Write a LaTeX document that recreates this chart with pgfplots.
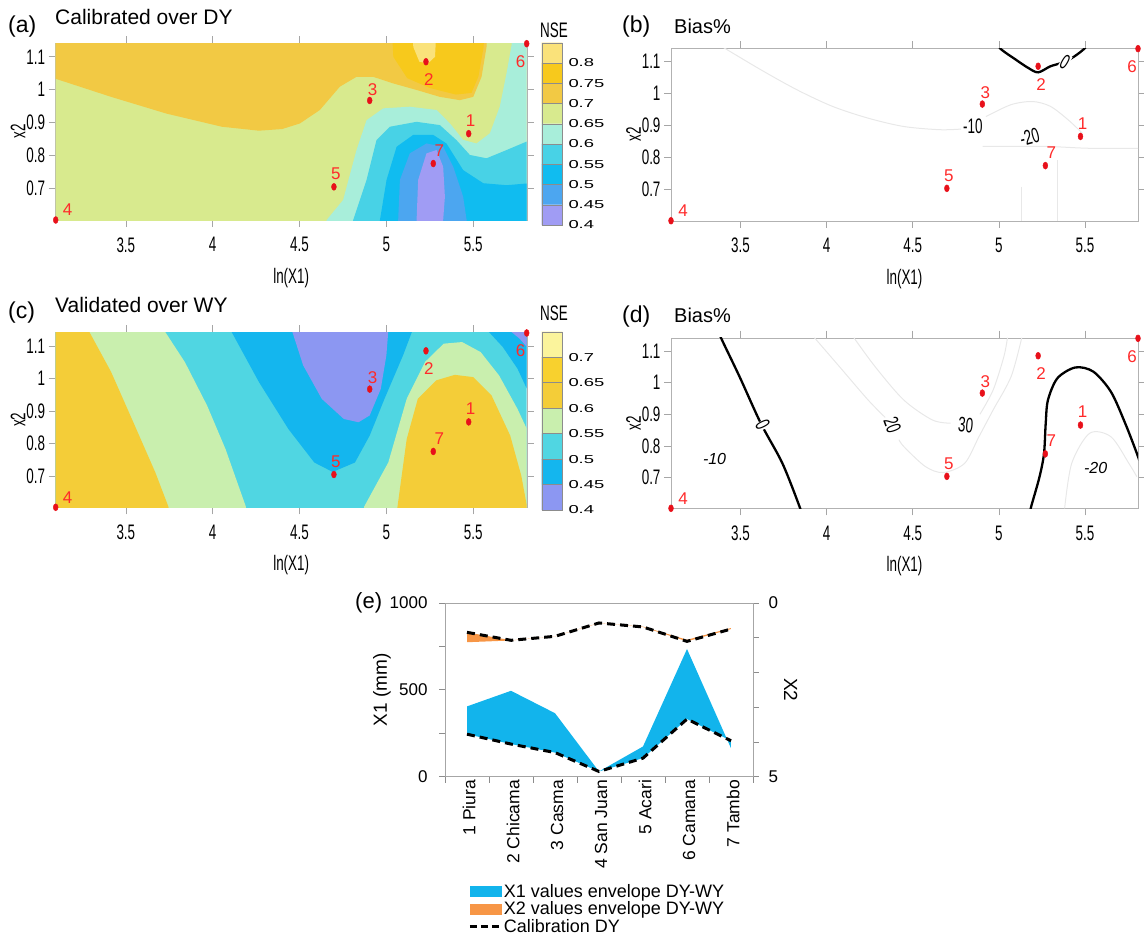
\documentclass[border=0pt]{standalone}
\usepackage{fontspec}
\setmainfont{Liberation Sans}
\newfontfamily\narrow[FakeStretch=0.64]{Liberation Sans}
\newfontfamily\wide[FakeStretch=1.6]{Liberation Sans}
\usepackage{pgfplots}
\pgfplotsset{compat=1.18}

\definecolor{a1}{HTML}{FAE27A}
\definecolor{a2}{HTML}{F7C91C}
\definecolor{a3}{HTML}{F2C944}
\definecolor{a4}{HTML}{D8EA8E}
\definecolor{a5}{HTML}{A8EEDA}
\definecolor{a6}{HTML}{48D2E6}
\definecolor{a7}{HTML}{10BCF0}
\definecolor{a8}{HTML}{4CA6F0}
\definecolor{a9}{HTML}{A09CF4}
\definecolor{c1}{HTML}{FBF49C}
\definecolor{c2}{HTML}{F8D12E}
\definecolor{c3}{HTML}{F4CD38}
\definecolor{c4}{HTML}{C9EFAE}
\definecolor{c5}{HTML}{50D6E2}
\definecolor{c6}{HTML}{14B6EE}
\definecolor{c7}{HTML}{8C97F2}
\definecolor{eblue}{HTML}{12B4EC}
\definecolor{eorange}{HTML}{F79646}
\definecolor{dotred}{HTML}{E8101A}
\definecolor{labred}{HTML}{FF2A2A}

\tikzset{
  slab/.style={text=labred, font=\fontsize{17}{17}\selectfont, inner sep=0pt, anchor=center},
  faint/.style={black!9, line width=1pt, smooth},
  bold/.style={black, line width=2.3pt, smooth},
  clab/.style={font=\narrow\fontsize{21}{21}\selectfont, inner sep=0.5pt},
  cbl/.style={font=\wide\fontsize{11.5}{11.5}\selectfont, anchor=west, xshift=6pt, inner sep=0pt},
}
\pgfplotsset{
  cpanel/.style={
    anchor=north west, scale only axis,
    xmin=3.096, xmax=5.808, ymin=0.603, ymax=1.142,
    xtick={3.5,4,4.5,5,5.5}, ytick={0.7,0.8,0.9,1,1.1},
    tick align=outside, major tick length=7pt,
    xtick pos=both, ytick pos=both,
    axis line style={black!30}, tick style={black!35, line width=0.6pt},
    /pgf/number format/assume math mode=true,
    ticklabel style={font=\narrow\fontsize{21}{21}\selectfont},
    xticklabel style={yshift=-7pt},
    xlabel={ln(X1)}, ylabel={x2},
    xlabel style={font=\narrow\fontsize{21}{21}\selectfont, at={(axis description cs:0.5,0)}, yshift=-58pt, anchor=center},
    ylabel style={font=\narrow\fontsize{21}{21}\selectfont, at={(axis description cs:-0.08,0.5)}, anchor=center},
  },
  ovl/.style={anchor=north west, scale only axis,
    xmin=3.096, xmax=5.808, ymin=0.603, ymax=1.142, hide axis, clip=false},
}

\newcommand{\sitedots}{%
  \addplot[only marks, mark=*, mark size=3.5pt, color=dotred, mark options={xscale=0.7}]
    coordinates {(5.474,0.866)(5.228,1.085)(4.904,0.967)(3.096,0.603)(4.698,0.704)(5.808,1.140)(5.27,0.775)};
  \node[slab, xshift=2pt, yshift=13pt] at (axis cs:5.474,0.866) {1};
  \node[slab, xshift=3pt, yshift=-18pt] at (axis cs:5.228,1.085) {2};
  \node[slab, xshift=3pt, yshift=11pt] at (axis cs:4.904,0.967) {3};
  \node[slab, xshift=12pt, yshift=10pt] at (axis cs:3.096,0.603) {4};
  \node[slab, xshift=2pt, yshift=13pt] at (axis cs:4.698,0.704) {5};
  \node[slab, xshift=-6pt, yshift=-18pt] at (axis cs:5.808,1.140) {6};
  \node[slab, xshift=6pt, yshift=13pt] at (axis cs:5.27,0.775) {7};
}
\newcommand{\band}[3]{\addplot[fill=#1, draw=black!45, line width=0.3pt] coordinates {(0,#2)(1,#2)(1,#3)(0,#3)(0,#2)};}

\begin{document}
\begin{tikzpicture}
\useasboundingbox (0,0) rectangle (1144pt,-940pt);

% ---------------- (a) ----------------
\begin{axis}[cpanel, at={(55.7pt,-43pt)}, width=471pt, height=177pt]
\addplot[fill=a4, draw=none] coordinates {(2.9,0.5)(6,0.5)(6,1.3)(2.9,1.3)};
\addplot[fill=a3, draw=none] coordinates {(3.0,1.2)(3.0,1.033)(3.096,1.033)(3.415,0.978)(3.734,0.927)(4.053,0.887)(4.266,0.875)(4.40,0.880)(4.502,0.897)(4.617,0.938)(4.732,1.009)(4.828,1.039)(4.924,1.039)(5.039,1.019)(5.174,0.999)(5.308,0.978)(5.423,0.968)(5.500,0.978)(5.548,1.039)(5.577,1.131)(5.58,1.2)};
\addplot[fill=a2, draw=none] coordinates {(5.03,1.2)(5.04,1.10)(5.12,1.035)(5.25,1.005)(5.40,0.985)(5.49,0.99)(5.53,1.04)(5.56,1.13)(5.565,1.2)};
\addplot[fill=a1, draw=none] coordinates {(5.15,1.2)(5.155,1.13)(5.19,1.085)(5.24,1.08)(5.28,1.10)(5.29,1.2)};
\addplot[fill=a5, draw=none] coordinates {(4.64,0.55)(4.656,0.603)(4.751,0.664)(4.828,0.816)(4.886,0.907)(4.982,0.943)(5.135,0.948)(5.289,0.938)(5.366,0.897)(5.442,0.847)(5.519,0.836)(5.596,0.867)(5.653,0.948)(5.692,1.050)(5.721,1.136)(5.73,1.2)(5.9,1.2)(5.9,0.55)};
\addplot[fill=a6, draw=none] coordinates {(4.80,0.55)(4.809,0.603)(4.886,0.725)(4.943,0.846)(5.020,0.887)(5.174,0.902)(5.308,0.892)(5.404,0.846)(5.481,0.801)(5.577,0.791)(5.692,0.816)(5.826,0.846)(5.9,0.85)(5.9,0.55)};
\addplot[fill=a7, draw=none] coordinates {(4.955,0.55)(4.963,0.603)(5.001,0.725)(5.059,0.826)(5.154,0.862)(5.270,0.862)(5.346,0.836)(5.442,0.755)(5.558,0.715)(5.692,0.709)(5.826,0.715)(5.9,0.715)(5.9,0.55)};
\addplot[fill=a8, draw=none] coordinates {(5.066,0.55)(5.068,0.603)(5.078,0.725)(5.135,0.806)(5.231,0.836)(5.327,0.826)(5.385,0.765)(5.442,0.674)(5.462,0.603)(5.465,0.55)};
\addplot[fill=a9, draw=none] coordinates {(5.172,0.55)(5.174,0.603)(5.183,0.725)(5.231,0.806)(5.289,0.816)(5.327,0.765)(5.337,0.674)(5.327,0.603)(5.327,0.55)};
\end{axis}
\begin{axis}[ovl, at={(55.7pt,-43pt)}, width=471pt, height=177pt]
\sitedots
\end{axis}

% colorbar (a)
\begin{axis}[at={(541.7pt,-42.7pt)}, anchor=north west, scale only axis, width=20.6pt, height=182.3pt, xmin=0, xmax=1, ymin=0, ymax=9, hide axis, clip=false]
\band{a9}{0}{1}\band{a8}{1}{2}\band{a7}{2}{3}\band{a6}{3}{4}\band{a5}{4}{5}\band{a4}{5}{6}\band{a3}{6}{7}\band{a2}{7}{8}\band{a1}{8}{9}
\node[cbl] at (axis cs:1,0) {0.4};
\node[cbl] at (axis cs:1,1) {0.45};
\node[cbl] at (axis cs:1,2) {0.5};
\node[cbl] at (axis cs:1,3) {0.55};
\node[cbl] at (axis cs:1,4) {0.6};
\node[cbl] at (axis cs:1,5) {0.65};
\node[cbl] at (axis cs:1,6) {0.7};
\node[cbl] at (axis cs:1,7) {0.75};
\node[cbl] at (axis cs:1,8) {0.8};
\end{axis}

% ---------------- (b) ----------------
\begin{axis}[cpanel, at={(671pt,-48pt)}, width=467pt, height=172.7pt]
\addplot[faint] coordinates {(3.390,1.147)(3.618,1.074)(3.826,1.012)(4.033,0.960)(4.241,0.923)(4.448,0.897)(4.656,0.887)(4.780,0.889)};
\addplot[faint] coordinates {(4.925,0.928)(5.070,0.965)(5.195,0.975)(5.299,0.960)(5.402,0.918)(5.485,0.876)};
\addplot[faint] coordinates {(4.905,0.835)(5.070,0.835)(5.278,0.835)(5.527,0.829)(5.85,0.829)};
\addplot[faint] coordinates {(5.340,0.793)(5.340,0.55)};
\addplot[faint] coordinates {(5.133,0.709)(5.133,0.55)};
\addplot[bold] coordinates {(4.97,1.175)(5.007,1.141)(5.10,1.105)(5.17,1.08)(5.228,1.066)(5.30,1.085)(5.384,1.099)(5.45,1.12)(5.50,1.142)(5.53,1.165)};
\node[clab, fill=white, rotate=-30] at (axis cs:5.384,1.099) {0};
\node[clab] at (axis cs:4.849,0.898) {-10};
\node[clab, rotate=15] at (axis cs:5.178,0.865) {-20};
\end{axis}
\begin{axis}[ovl, at={(671pt,-48pt)}, width=467pt, height=172.7pt]
\sitedots
\end{axis}

% ---------------- (c) ----------------
\begin{axis}[cpanel, at={(55.7pt,-332.3pt)}, width=471pt, height=175pt]
\addplot[fill=c5, draw=none] coordinates {(2.9,0.5)(6,0.5)(6,1.3)(2.9,1.3)};
\addplot[fill=c4, draw=none] coordinates {(2.9,0.5)(2.9,1.25)(3.68,1.25)(3.723,1.146)(3.840,1.050)(3.968,0.916)(4.074,0.782)(4.191,0.605)(4.21,0.5)};
\addplot[fill=c3, draw=none] coordinates {(2.9,0.5)(2.9,1.25)(3.25,1.25)(3.287,1.146)(3.415,1.020)(3.543,0.865)(3.670,0.710)(3.745,0.605)(3.77,0.5)};
\addplot[fill=c6, draw=none] coordinates {(4.06,1.25)(4.106,1.146)(4.266,0.989)(4.436,0.844)(4.585,0.741)(4.691,0.712)(4.819,0.741)(4.904,0.824)(4.989,0.937)(5.096,1.071)(5.149,1.146)(5.18,1.25)};
\addplot[fill=c7, draw=none] coordinates {(4.44,1.25)(4.457,1.146)(4.521,1.040)(4.628,0.937)(4.755,0.875)(4.840,0.865)(4.904,0.886)(4.968,0.968)(5.0,1.071)(5.011,1.146)(5.015,1.25)};
\addplot[fill=c4, draw=none] coordinates {(4.85,0.5)(4.872,0.605)(5.011,0.741)(5.117,0.937)(5.223,1.051)(5.330,1.107)(5.436,1.112)(5.543,1.081)(5.649,1.009)(5.755,0.906)(5.809,0.844)(5.9,0.75)(5.9,0.5)};
\addplot[fill=c3, draw=none] coordinates {(5.05,0.5)(5.064,0.605)(5.117,0.813)(5.181,0.937)(5.287,0.994)(5.394,1.011)(5.500,1.004)(5.606,0.947)(5.713,0.824)(5.777,0.700)(5.809,0.607)(5.83,0.5)};
\addplot[fill=c6, draw=none] coordinates {(5.56,1.25)(5.585,1.146)(5.670,1.097)(5.755,1.030)(5.809,0.968)(5.9,0.9)(5.9,1.25)};
\addplot[fill=c7, draw=none] coordinates {(5.70,1.25)(5.713,1.146)(5.766,1.123)(5.809,1.097)(5.9,1.05)(5.9,1.25)};
\end{axis}
\begin{axis}[ovl, at={(55.7pt,-332.3pt)}, width=471pt, height=175pt]
\sitedots
\end{axis}

% colorbar (c)
\begin{axis}[at={(541.7pt,-331.7pt)}, anchor=north west, scale only axis, width=20.6pt, height=178.3pt, xmin=0, xmax=1, ymin=0, ymax=7, hide axis, clip=false]
\band{c7}{0}{1}\band{c6}{1}{2}\band{c5}{2}{3}\band{c4}{3}{4}\band{c3}{4}{5}\band{c2}{5}{6}\band{c1}{6}{7}
\node[cbl] at (axis cs:1,0) {0.4};
\node[cbl] at (axis cs:1,1) {0.45};
\node[cbl] at (axis cs:1,2) {0.5};
\node[cbl] at (axis cs:1,3) {0.55};
\node[cbl] at (axis cs:1,4) {0.6};
\node[cbl] at (axis cs:1,5) {0.65};
\node[cbl] at (axis cs:1,6) {0.7};
\end{axis}

% ---------------- (d) ----------------
\begin{axis}[cpanel, at={(671pt,-337.7pt)}, width=467pt, height=170.6pt]
\addplot[faint] coordinates {(3.929,1.142)(4.075,1.050)(4.241,0.945)(4.340,0.890)};
\addplot[faint] coordinates {(4.420,0.820)(4.448,0.798)(4.573,0.735)(4.676,0.716)(4.801,0.745)(4.884,0.829)(4.967,0.914)(5.071,1.019)(5.133,1.142)};
\addplot[faint] coordinates {(4.158,1.142)(4.282,1.050)(4.448,0.945)(4.614,0.882)(4.720,0.872)};
\addplot[faint] coordinates {(4.890,0.900)(4.967,0.977)(5.029,1.082)(5.050,1.142)};
\addplot[faint] coordinates {(5.382,0.603)(5.423,0.745)(5.527,0.840)(5.651,0.829)(5.755,0.745)(5.801,0.703)};
\addplot[bold] coordinates {(3.36,1.18)(3.386,1.142)(3.494,1.019)(3.618,0.871)(3.743,0.745)(3.846,0.603)(3.86,0.57)};
\addplot[bold] coordinates {(5.17,0.56)(5.185,0.603)(5.235,0.70)(5.262,0.775)(5.272,0.871)(5.285,0.945)(5.340,1.014)(5.444,1.048)(5.548,1.035)(5.651,0.971)(5.734,0.871)(5.801,0.777)(5.83,0.73)};
\node[clab, fill=white, rotate=-64] at (axis cs:3.629,0.866) {0};
\node[font=\itshape\fontsize{16}{16}\selectfont] at (axis cs:3.349,0.760) {-10};
\node[clab, rotate=-70] at (axis cs:4.382,0.866) {20};
\node[clab, rotate=-5] at (axis cs:4.807,0.866) {30};
\node[font=\itshape\fontsize{16}{16}\selectfont] at (axis cs:5.562,0.731) {-20};
\end{axis}
\begin{axis}[ovl, at={(671pt,-337.7pt)}, width=467pt, height=170.6pt]
\sitedots
\end{axis}

% ---------------- (e) ----------------
\begin{axis}[at={(445pt,-603pt)}, anchor=north west, scale only axis, width=308pt, height=173.5pt,
  xmin=0.5, xmax=7.5, ymin=0, ymax=1000,
  axis line style={black!35}, tick style={black!45, line width=0.6pt},
  tick align=outside, major tick length=6pt,
  xtick={0.5,1.5,2.5,3.5,4.5,5.5,6.5,7.5}, xticklabels={,,,,,,,},
  extra x ticks={1,2,3,4,5,6,7},
  extra x tick labels={1 Piura,2 Chicama,3 Casma,4 San Juan,5 Acari,6 Camana,7 Tambo},
  extra x tick style={major tick length=0pt, xticklabel style={rotate=90, anchor=east, yshift=-2pt, font=\fontsize{17.5}{17.5}\selectfont}},
  xtick pos=bottom, ytick pos=left,
  ytick={0,250,500,750,1000}, yticklabels={0,,500,,1000},
  /pgf/number format/assume math mode=true,
  yticklabel style={font=\fontsize{17}{17}\selectfont, xshift=-8pt},
  ylabel={X1 (mm)},
  ylabel style={font=\fontsize{19}{19}\selectfont, at={(axis description cs:-0.205,0.5)}, anchor=center},
  legend style={at={(axis description cs:0.075,-0.612)}, anchor=north west, draw=none, fill=none,
    font=\fontsize{18}{18}\selectfont, row sep=0pt, inner sep=0pt, nodes={inner sep=1.5pt}},
  legend cell align=left,
]
\addlegendimage{legend image code/.code={\fill[eblue] (0pt,-5pt) rectangle (31pt,5pt);}}
\addlegendentry{X1 values envelope DY-WY}
\addlegendimage{legend image code/.code={\fill[eorange] (0pt,-5pt) rectangle (31pt,5pt);}}
\addlegendentry{X2 values envelope DY-WY}
\addlegendimage{legend image code/.code={\draw[black, line width=3pt, dash pattern=on 7pt off 4pt] (0pt,0pt) -- (31pt,0pt);}}
\addlegendentry{Calibration DY}
\addplot[fill=eblue, draw=none] coordinates {(1,244)(2,187)(3,138)(4,29)(5,106)(6,331)(7,206)(7,163)(6,735)(5,173)(4,29)(3,365)(2,494)(1,404)(1,244)};
\addplot[black, line width=3pt, dash pattern=on 8pt off 5pt] coordinates {(1,244)(2,187)(3,138)(4,29)(5,106)(6,331)(7,206)};
\end{axis}
\begin{axis}[at={(445pt,-603pt)}, anchor=north west, scale only axis, width=308pt, height=173.5pt,
  xmin=0.5, xmax=7.5, ymin=0, ymax=5, y dir=reverse,
  axis x line=none, axis y line*=right,
  axis line style={black!35}, tick style={black!45, line width=0.6pt},
  tick align=outside, major tick length=6pt,
  ytick={0,1,2,3,4,5}, yticklabels={0,,,,,5},
  /pgf/number format/assume math mode=true,
  yticklabel style={font=\fontsize{17}{17}\selectfont, xshift=6pt},
  ylabel={X2},
  ylabel style={font=\fontsize{19}{19}\selectfont, rotate=180, at={(axis description cs:1.123,0.5)}, anchor=center},
]
\addplot[fill=eorange, draw=none] coordinates {(1,0.845)(2,1.075)(3,0.96)(4,0.575)(5,0.69)(6,1.105)(7,0.75)(7,0.72)(6,1.06)(5,0.68)(4,0.58)(3,0.96)(2,1.08)(1,1.13)(1,0.845)};
\addplot[black, line width=3pt, dash pattern=on 8pt off 5pt] coordinates {(1,0.845)(2,1.075)(3,0.96)(4,0.575)(5,0.69)(6,1.105)(7,0.75)};
\end{axis}

% panel titles
\node[anchor=west, inner sep=0pt, font=\fontsize{23}{23}\selectfont] at (8pt,-27pt) {(a)};
\node[anchor=west, inner sep=0pt, font=\fontsize{21}{21}\selectfont] at (55pt,-17pt) {Calibrated over DY};
\node[anchor=west, inner sep=0pt, font=\fontsize{23}{23}\selectfont] at (622pt,-27pt) {(b)};
\node[anchor=west, inner sep=0pt, font=\fontsize{20}{20}\selectfont] at (674pt,-26pt) {Bias\%};
\node[anchor=west, inner sep=0pt, font=\fontsize{23}{23}\selectfont] at (8pt,-313pt) {(c)};
\node[anchor=west, inner sep=0pt, font=\fontsize{21}{21}\selectfont] at (55pt,-305pt) {Validated over WY};
\node[anchor=west, inner sep=0pt, font=\fontsize{23}{23}\selectfont] at (622pt,-317pt) {(d)};
\node[anchor=west, inner sep=0pt, font=\fontsize{20}{20}\selectfont] at (674pt,-315pt) {Bias\%};
\node[anchor=west, inner sep=0pt, font=\fontsize{22}{22}\selectfont] at (355pt,-603pt) {(e)};
\node[inner sep=0pt, font=\narrow\fontsize{21}{21}\selectfont] at (554pt,-30pt) {NSE};
\node[inner sep=0pt, font=\narrow\fontsize{21}{21}\selectfont] at (554pt,-313pt) {NSE};
\end{tikzpicture}
\end{document}
